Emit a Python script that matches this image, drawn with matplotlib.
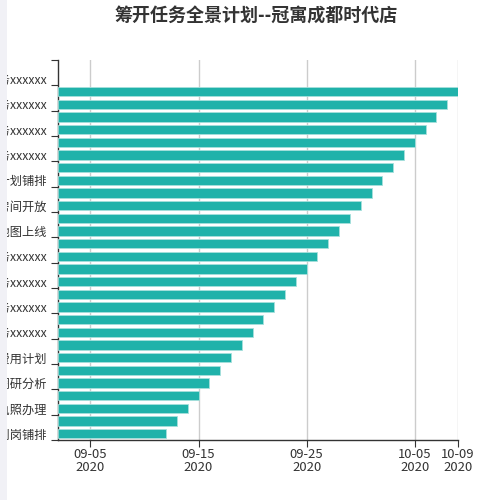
import matplotlib
matplotlib.use("Agg")
import matplotlib.pyplot as plt
import matplotlib.dates as mdates
from matplotlib.patches import Rectangle

plt.rcParams['font.family'] = ['Noto Sans CJK SC', 'DejaVu Sans']

title = "筹开任务全景计划--冠寓成都时代店"

# category labels shown on the axis (every other category, bottom to top)
labels = ["人员到岗铺排", "营业执照办理", "市场调研分析", "开业费用计划",
          "筹开任务xxxxxx", "筹开任务xxxxxx", "筹开任务xxxxxx", "筹开任务xxxxxx",
          "线上地图上线", "样板房间开放", "开业计划铺排",
          "筹开任务xxxxxx", "筹开任务xxxxxx", "筹开任务xxxxxx", "筹开任务xxxxxx"]
n_categories = 30

# bar end dates, bottom category to top
end_dates = ["2020-09-12", "2020-09-13", "2020-09-14", "2020-09-15", "2020-09-16",
             "2020-09-17", "2020-09-18", "2020-09-19", "2020-09-20", "2020-09-21",
             "2020-09-22", "2020-09-23", "2020-09-24", "2020-09-25", "2020-09-26",
             "2020-09-27", "2020-09-28", "2020-09-29", "2020-09-30", "2020-10-01",
             "2020-10-02", "2020-10-03", "2020-10-04", "2020-10-05", "2020-10-06",
             "2020-10-07", "2020-10-08", "2020-10-09"]

axis_min = "2020-09-02"
axis_max = "2020-10-09"
xtick_dates = ["2020-09-05", "2020-09-15", "2020-09-25", "2020-10-05", "2020-10-09"]

fig = plt.figure(figsize=(5, 5), dpi=100)
ax = fig.add_axes([58/500, 1-440/500, 400/500, 380/500])

xmin = mdates.datestr2num(axis_min)
xmax = mdates.datestr2num(axis_max)
ends = [mdates.datestr2num(d) for d in end_dates]
ypos = list(range(len(ends)))

ax.barh(ypos, [e - xmin for e in ends], left=xmin, height=0.74,
        color='#20B2AA', edgecolor='#a6e0dc', linewidth=0.6, zorder=3)

ax.set_xlim(xmin, xmax)
ax.set_ylim(-0.5, n_categories - 0.5)

# x ticks
xt = [mdates.datestr2num(d) for d in xtick_dates]
ax.set_xticks(xt)
ax.set_xticklabels([d[5:] + "\n" + d[:4] for d in xtick_dates], fontsize=9.4,
                   color='#333333', linespacing=0.95)
ax.tick_params(axis='x', length=5, color='#333333', pad=1)
ax.grid(axis='x', color='#cccccc', linewidth=1, zorder=0)

# y ticks: marks at boundaries every two categories, labels at even categories
ax.set_yticks([i - 0.5 for i in range(0, n_categories + 1, 2)])
ax.set_yticklabels([])
ax.tick_params(axis='y', which='major', length=5, color='#333333')
ax.set_yticks(list(range(0, n_categories, 2)), minor=True)
ax.set_yticklabels(labels, minor=True, fontsize=8.8, color='#333333')
ax.tick_params(axis='y', which='minor', length=0, pad=8)

for s in ['top', 'right']:
    ax.spines[s].set_visible(False)
for s in ['left', 'bottom']:
    ax.spines[s].set_color('#333333')
    ax.spines[s].set_linewidth(1)

fig.text(256/500, 1-15/500, title, ha='center', va='center', fontsize=13,
         fontweight='bold', color='#333333')

# page background strip at the left edge
fig.patches.append(Rectangle((0, 0), 7/500, 1, transform=fig.transFigure,
                             facecolor='#f1f1f6', edgecolor='none', zorder=10))

fig.savefig("out.png", dpi=100)
